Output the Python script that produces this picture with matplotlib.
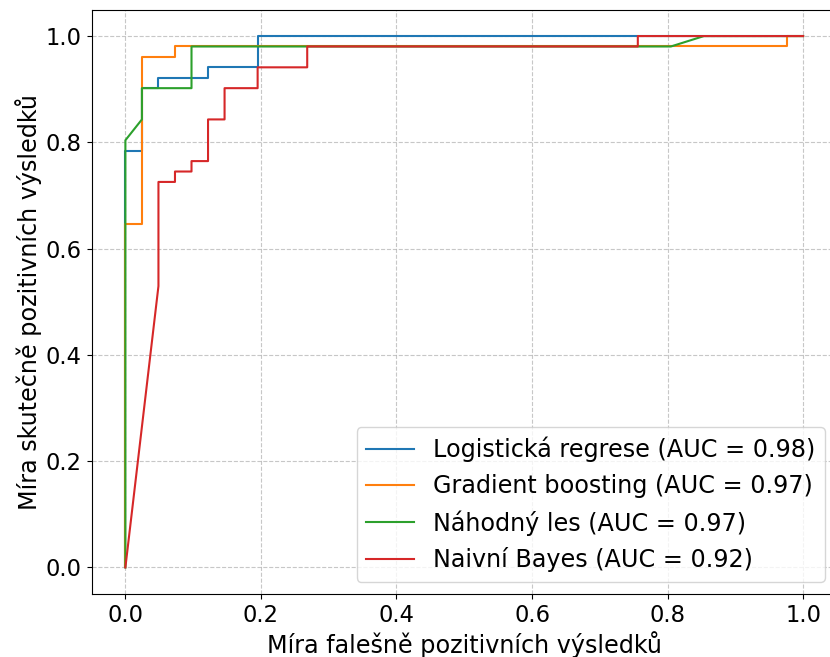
import matplotlib
matplotlib.use("Agg")
import matplotlib.pyplot as plt

N = 41.0  # negatives
P = 51.0  # positives

# Logistic regression
lr_fpr = [0, 0, 1, 1, 2, 2, 5, 5, 8, 8, 41]
lr_tpr = [0, 40, 40, 46, 46, 47, 47, 48, 48, 51, 51]
# Gradient boosting
gb_fpr = [0, 0, 1, 1, 3, 3, 40, 40, 41]
gb_tpr = [0, 33, 33, 49, 49, 50, 50, 51, 51]
# Random forest
rf_fpr = [0, 0, 1, 1, 4, 4, 33, 35, 41]
rf_tpr = [0, 41, 43, 46, 46, 50, 50, 51, 51]
# Naive Bayes
nb_fpr = [0, 2, 2, 3, 3, 4, 4, 5, 5, 6, 6, 8, 8, 11, 11, 31, 31, 41]
nb_tpr = [0, 27, 37, 37, 38, 38, 39, 39, 43, 43, 46, 46, 48, 48, 50, 50, 51, 51]

labels = ["Logistická regrese (AUC = 0.98)",
          "Gradient boosting (AUC = 0.97)",
          "Náhodný les (AUC = 0.97)",
          "Naivní Bayes (AUC = 0.92)"]
colors = ["#1f77b4", "#ff7f0e", "#2ca02c", "#d62728"]

fig = plt.figure(figsize=(8.3, 6.57), dpi=100)
W, H = 830, 657
x0, x1 = 91.5, 837.0
ytop, ybot = 9.5, 594.0
ax = fig.add_axes([x0 / W, (H - ybot) / H, (x1 - x0) / W, (ybot - ytop) / H])

series = [(lr_fpr, lr_tpr), (gb_fpr, gb_tpr), (rf_fpr, rf_tpr), (nb_fpr, nb_tpr)]
for (f, t), lab, c in zip(series, labels, colors):
    ax.plot([v / N for v in f], [v / P for v in t], color=c, lw=1.5, label=lab)

ax.set_xlim(-0.05, 1.05)
ax.set_ylim(-0.05, 1.05)
ax.set_xticks([0, 0.2, 0.4, 0.6, 0.8, 1.0])
ax.set_yticks([0, 0.2, 0.4, 0.6, 0.8, 1.0])
ax.tick_params(labelsize=16.3)
ax.grid(True, linestyle="--", color="#b0b0b0", alpha=0.7)
ax.set_xlabel("Míra falešně pozitivních výsledků", fontsize=17.2, labelpad=3)
ax.set_ylabel("Míra skutečně pozitivních výsledků", fontsize=17.2, labelpad=3)
ax.legend(loc="lower right", fontsize=17.2, borderaxespad=0.5)

fig.savefig("out.png", dpi=100)
